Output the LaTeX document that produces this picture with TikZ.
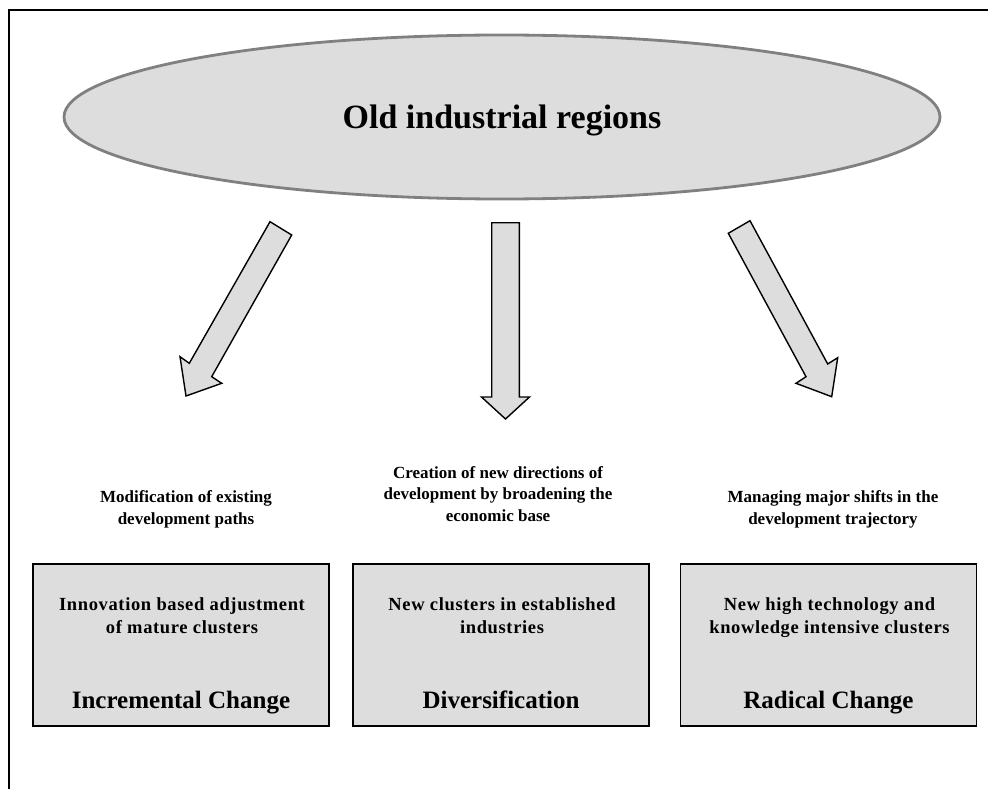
\documentclass[tikz,border=0pt]{standalone}
\usepackage{fontspec}
\setmainfont{Liberation Serif}
\newfontfamily\spacedserif{Liberation Serif}[LetterSpace=3.5]
\usetikzlibrary{shapes.geometric}
\definecolor{boxfill}{HTML}{DDDDDD}
\definecolor{rimgray}{HTML}{808080}
\tikzset{
  frameline/.style={line width=1.6pt, black},
  oval/.style={ellipse, draw=rimgray, line width=2.8pt, fill=boxfill, minimum width=876pt, minimum height=164pt, inner sep=0pt},
  blockarrow/.style={draw=black, line width=1.4pt, fill=boxfill, line join=miter},
  clusterbox/.style={rectangle, draw=black, line width=1.7pt, fill=boxfill, minimum width=296pt, minimum height=162pt, inner sep=0pt},
  pathlabel/.style={align=center, font=\fontsize{17}{21.5}\selectfont\bfseries, inner sep=0pt, anchor=base},
  boxtext/.style={align=center, font=\spacedserif\fontsize{18.5}{23.3}\selectfont\bfseries, inner sep=0pt, anchor=base},
  changetext/.style={font=\fontsize{25}{30}\selectfont\bfseries, inner sep=0pt, anchor=base},
  titletext/.style={font=\fontsize{34}{40}\selectfont\bfseries, inner sep=0pt, anchor=base}
}
\begin{document}
\begin{tikzpicture}[x=1pt, y=-1pt]
\useasboundingbox (0,0) rectangle (988,789);
% frame
\draw[frameline] (988,10) -- (9,10) -- (9,789);
% top ellipse
\node[oval] (top) at (502,117) {};
\node[titletext] (title) at (502,129) {Old industrial regions};
% block arrows
\draw[blockarrow] (270,221.7) -- (291.7,235) -- (211.7,376.7) -- (221.7,383.3) -- (186,396) -- (180,356.7) -- (189.3,363.3) -- cycle;
\draw[blockarrow] (491.7,222.7) -- (519.3,222.7) -- (519.3,397) -- (529.5,397) -- (505.5,419) -- (481.5,397) -- (491.7,397) -- cycle;
\draw[blockarrow] (728.3,233.3) -- (750,220.7) -- (827.7,364) -- (837.7,357.7) -- (831.7,396.7) -- (796,383.3) -- (806,376.7) -- cycle;
% labels (base = baseline of last line)
\node[pathlabel] (l1) at (186,524) {Modification of existing\\development paths};
\node[pathlabel] (l2) at (498,521) {Creation of new directions of\\development by broadening the\\economic base};
\node[pathlabel] (l3) at (833,524) {Managing major shifts in the\\development trajectory};
% boxes
\node[clusterbox] (b1) at (181,645) {};
\node[clusterbox] (b2) at (501,645) {};
\node[clusterbox] (b3) at (828.5,645) {};
\node[boxtext] (t1) at (182,633.3) {Innovation based adjustment\\of mature clusters};
\node[boxtext] (t2) at (502,633.3) {New clusters in established\\industries};
\node[boxtext] (t3) at (829.5,633.3) {New high technology and\\knowledge intensive clusters};
\node[changetext] (c1) at (181,708.3) {Incremental Change};
\node[changetext] (c2) at (501,708.3) {Diversification};
\node[changetext] (c3) at (828.5,708.3) {Radical Change};
\end{tikzpicture}
\end{document}
